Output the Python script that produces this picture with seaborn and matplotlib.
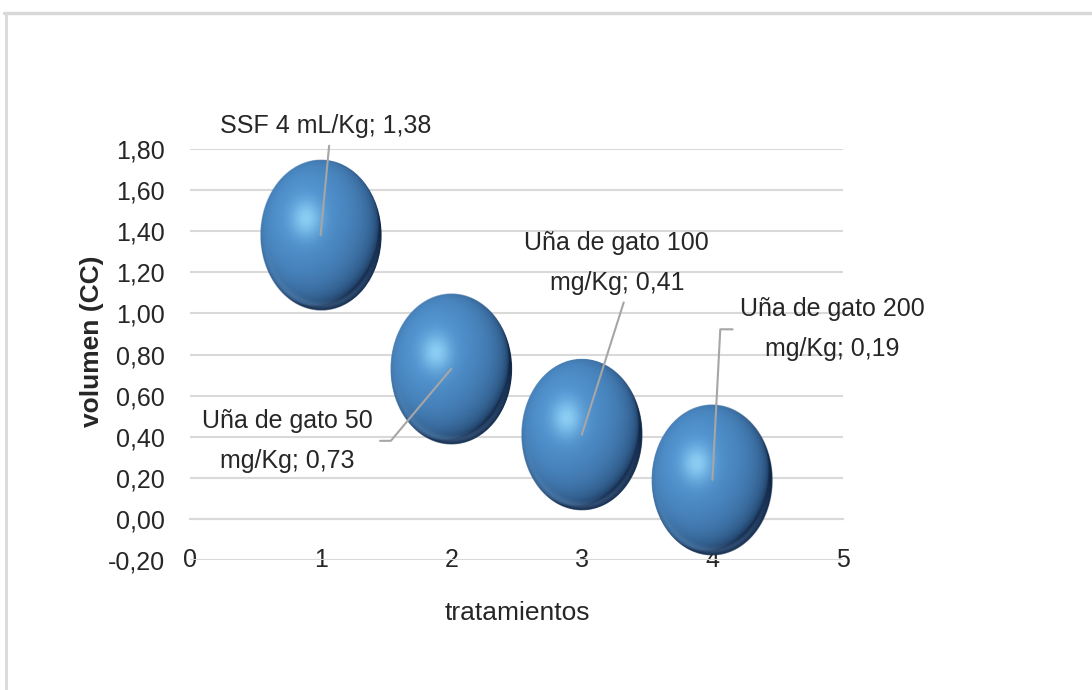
import numpy as np
import pandas as pd
import matplotlib
matplotlib.use("Agg")
import matplotlib.pyplot as plt
from matplotlib import font_manager
from matplotlib.path import Path
from matplotlib.patches import Ellipse
from matplotlib.lines import Line2D
import seaborn as sns

# ---- data ----
treatments = [1, 2, 3, 4]
volumes = [1.38, 0.73, 0.41, 0.19]
names = ["SSF 4 mL/Kg", "Uña de gato 50\nmg/Kg", "Uña de gato 100\nmg/Kg", "Uña de gato 200\nmg/Kg"]
x_ticks = [0, 1, 2, 3, 4, 5]
y_ticks = [-0.2, 0.0, 0.2, 0.4, 0.6, 0.8, 1.0, 1.2, 1.4, 1.6, 1.8]
x_title = "tratamientos"
y_title = "volumen (CC)"

df = pd.DataFrame({"tratamiento": treatments, "volumen": volumes, "nombre": names})

# ---- style ----
sns.set_style("white")
available = {f.name for f in font_manager.fontManager.ttflist}
family = "Liberation Sans" if "Liberation Sans" in available else "DejaVu Sans"
plt.rcParams["font.family"] = [family, "DejaVu Sans"]

GRID = "#d9d9d9"
TEXT = "#262626"
LEADER = "#a6a6a6"

fig = plt.figure(figsize=(10.92, 6.90), dpi=100)
ax = fig.add_axes([190 / 1092, 130 / 690, 653 / 1092, 411 / 690])
ax.set_xlim(0, 5)
ax.set_ylim(-0.2, 1.8)

# bubble footprint (pixels) -> data units
bub_w_px, bub_h_px = 122, 152
px_x = ax.bbox.width / 5.0
px_y = ax.bbox.height / 2.0
bw, bh = bub_w_px / px_x, bub_h_px / px_y

# elliptical marker for the base layer
ell = Path.unit_circle()
ell = Path(ell.vertices * np.array([bub_w_px / bub_h_px, 1.0]), ell.codes)
size_pt = (bub_h_px - 4) * 72 / fig.dpi
sns.scatterplot(data=df, x="tratamiento", y="volumen", marker=ell, s=size_pt ** 2,
                color="#3f78b5", edgecolor="none", linewidth=0, legend=False,
                ax=ax, zorder=3)

# shaded sphere texture
N = 300
u = np.linspace(-1, 1, N)
U, V = np.meshgrid(u, -u)
R2 = U ** 2 + V ** 2
R = np.sqrt(R2)
NZ = np.sqrt(np.clip(1 - R2, 0, 1))
L = np.array([-0.35, 0.35, 0.87])
L = L / np.linalg.norm(L)
diff = np.clip(U * L[0] + V * L[1] + NZ * L[2], 0, 1)
dark = np.array([0.07, 0.16, 0.29])
base = np.array([0.32, 0.58, 0.82])
rgb = dark + (base - dark) * diff[..., None] ** 0.45
spec = np.exp(-((U + 0.25) ** 2 + (V - 0.22) ** 2) / 0.06)
hi = np.array([0.62, 0.88, 1.0])
rgb = rgb * (1 - 0.75 * spec[..., None]) + hi * 0.75 * spec[..., None]
rim = np.exp(-((R - 0.93) ** 2) / 0.002) * np.clip(-V, 0, 1) * 0.3
rgb = rgb + (np.array([0.5, 0.68, 0.85]) - rgb) * rim[..., None]
alpha = np.clip((1 - R) * N / 3.0, 0, 1)
img = np.dstack([np.clip(rgb, 0, 1), alpha])

for xv, yv in zip(df["tratamiento"], df["volumen"]):
    im = ax.imshow(img, extent=[xv - bw / 2, xv + bw / 2, yv - bh / 2, yv + bh / 2],
                   aspect="auto", zorder=4, interpolation="bilinear")
    im.set_clip_path(Ellipse((xv, yv), bw, bh, transform=ax.transData))

ax.set_xlim(0, 5)
ax.set_ylim(-0.2, 1.8)

# gridlines
for yv in y_ticks:
    ax.axhline(yv, color=GRID, lw=1.5, zorder=1)

# axes
for side in ["top", "right", "left"]:
    ax.spines[side].set_visible(False)
ax.spines["bottom"].set_position(("data", 0))
ax.spines["bottom"].set_color(GRID)
ax.spines["bottom"].set_linewidth(1.5)
ax.spines["bottom"].set_zorder(1)
ax.set_xticks(x_ticks)
ax.set_xticklabels([str(t) for t in x_ticks])
ax.set_yticks(y_ticks)
ax.set_yticklabels([f"{t:.2f}".replace(".", ",") for t in y_ticks])
ax.tick_params(axis="x", direction="out", length=6, width=1.5, color=GRID,
               pad=15, labelsize=18, labelcolor=TEXT)
ax.tick_params(axis="y", length=0, pad=18, labelsize=18, labelcolor=TEXT)

ax.set_xlabel(x_title, fontsize=19, color=TEXT, va="center")
ax.xaxis.set_label_coords(0.502, -0.129)
ax.set_ylabel(y_title, fontsize=19, color=TEXT, fontweight="bold", va="center")
ax.yaxis.set_label_coords(-0.15, 0.533)

# data labels with leader lines
label_offsets = [(3.6, 78.5), (-118, -51.8), (25.2, 123.5), (86.4, 108.4)]
label_relpos = [(0.52, 0.0), (1.0, 0.5), (0.55, 0.0), (0.0, 0.5)]
label_conn = ["arc3", "angle,angleA=0,angleB=50,rad=0", "arc3", "angle,angleA=0,angleB=87,rad=0"]
for (xv, yv, nm), off, rp, cs in zip(df[["tratamiento", "volumen", "nombre"]].values,
                                      label_offsets, label_relpos, label_conn):
    txt = f"{nm}; " + f"{yv:.2f}".replace(".", ",")
    ax.annotate(txt, xy=(xv, yv), xytext=off, textcoords="offset points",
                ha="center", va="center", multialignment="center",
                fontsize=18, color=TEXT, linespacing=1.85, zorder=6,
                arrowprops=dict(arrowstyle="-", color=LEADER, lw=1.5,
                                shrinkA=3, shrinkB=0, relpos=rp,
                                connectionstyle=cs, zorder=5))

# outer frame
fig.add_artist(Line2D([4 / 1092, 1.0], [1 - 13 / 690, 1 - 13 / 690],
                      transform=fig.transFigure, color="#d9d9d9", lw=2.5))
fig.add_artist(Line2D([6 / 1092, 6 / 1092], [0, 1 - 13 / 690],
                      transform=fig.transFigure, color="#d9d9d9", lw=2.0))

fig.savefig("out.png", dpi=100)
